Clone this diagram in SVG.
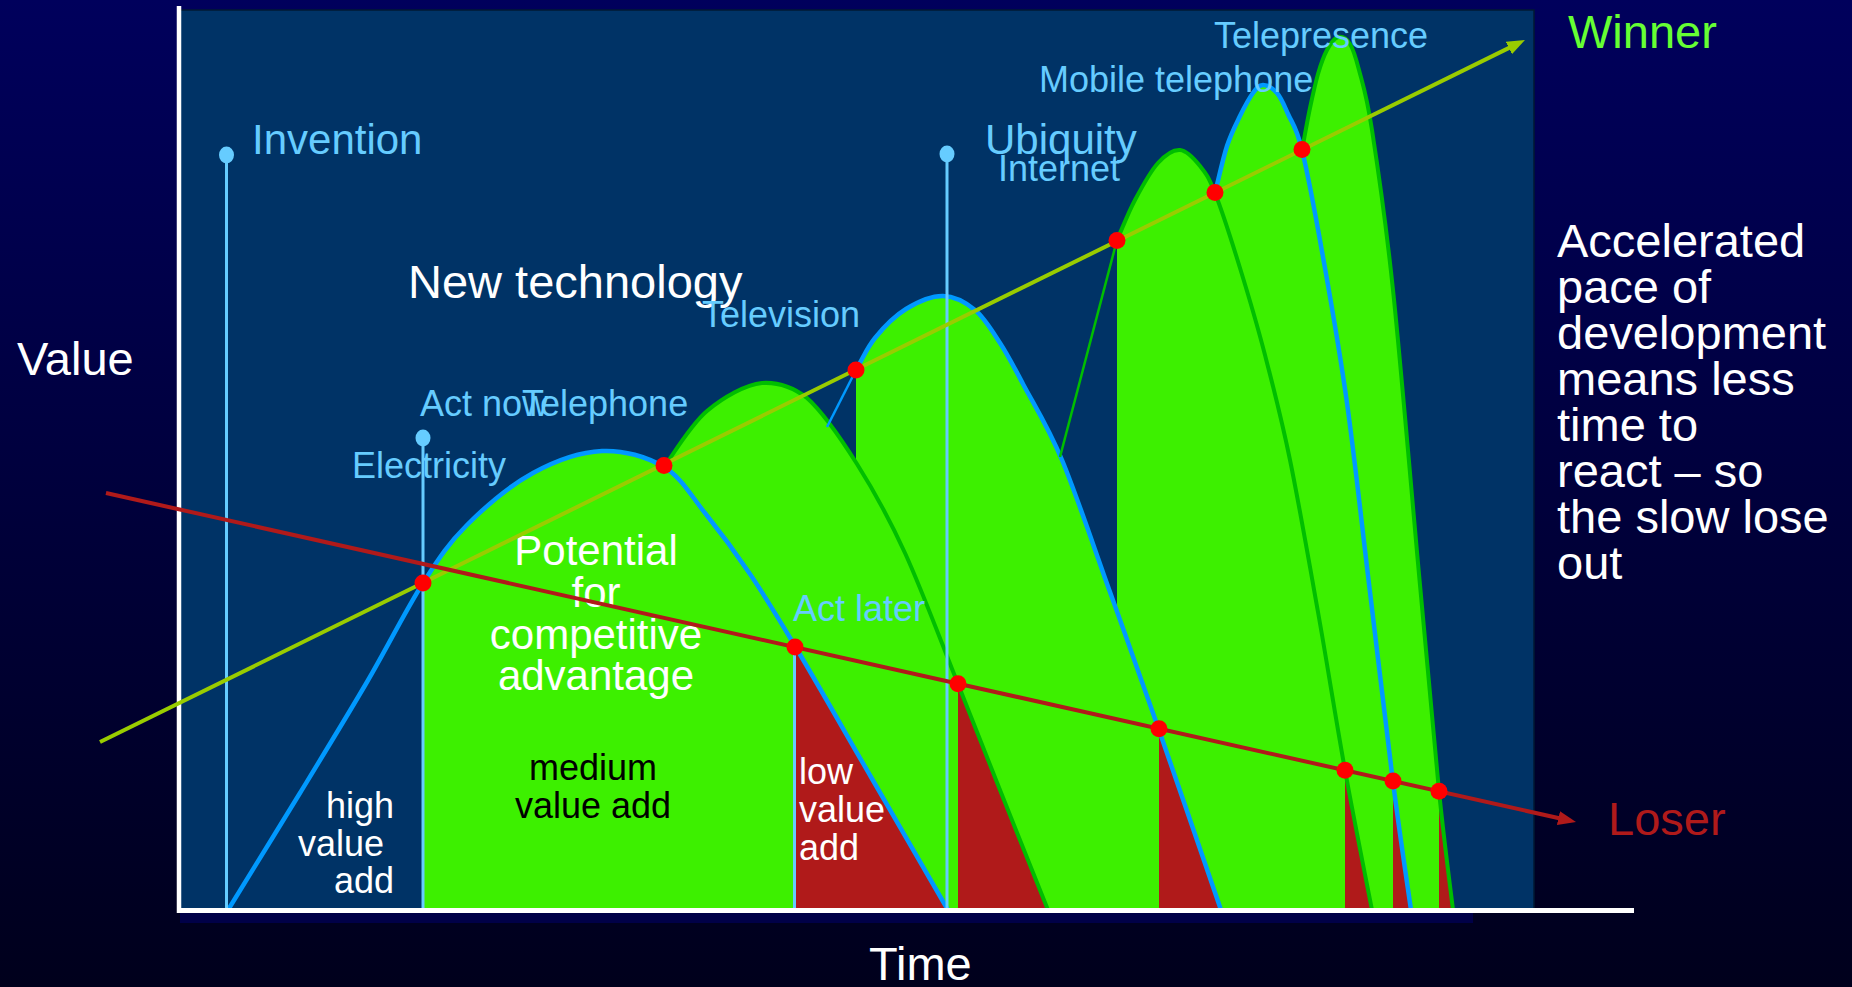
<svg xmlns="http://www.w3.org/2000/svg" width="1852" height="987" viewBox="0 0 1852 987">
<defs>
<linearGradient id="bg" x1="0" y1="0" x2="0" y2="1">
<stop offset="0" stop-color="#00005C"/>
<stop offset="1" stop-color="#00001C"/>
</linearGradient>
<marker id="arrW" viewBox="0 0 18 14" refX="2" refY="7" markerWidth="18" markerHeight="14" markerUnits="userSpaceOnUse" orient="auto">
<path d="M0,0 L18,7 L0,14 Z" fill="#99CC00"/>
</marker>
<marker id="arrL" viewBox="0 0 18 14" refX="2" refY="7" markerWidth="18" markerHeight="14" markerUnits="userSpaceOnUse" orient="auto">
<path d="M0,0 L18,7 L0,14 Z" fill="#B01A1A"/>
</marker>
<style>
text { font-family: "Liberation Sans", Arial, sans-serif; }
.fill { fill: #3DF000; stroke: none; }
.red { fill: #B01A1A; stroke: none; }
.ob { fill: none; stroke: #0099FF; stroke-width: 4.5; }
.og { fill: none; stroke: #00BE00; stroke-width: 4; }
.thinb { fill: none; stroke: #0099FF; stroke-width: 2.5; }
.thing { fill: none; stroke: #00BE00; stroke-width: 2.5; }
.vl { stroke: #66CCFF; stroke-width: 3; fill: none; }
.vd { fill: #66CCFF; }
.dot { fill: #FF0000; }
.lb { fill: #66CCFF; font-size: 36px; }
.lbb { fill: #66CCFF; font-size: 42px; }
.wt { fill: #FFFFFF; font-size: 47px; }
.pt { fill: #FFFFFF; font-size: 42px; }
.in { fill: #FFFFFF; font-size: 36px; }
.blk { fill: #000000; font-size: 36px; }
</style>
</defs>

<g id="background">
<rect x="0" y="0" width="1852" height="987" fill="url(#bg)"/>
<rect x="180" y="912" width="1293" height="11" fill="#000048"/>
<rect x="180" y="10" width="1354" height="900" fill="#003366" stroke="#001a33" stroke-width="1.5"/>
</g>

<g id="fills">
<path class="fill" d="M423,910 L423,583 C439.7,556.8 448.7,543.3 467,525 C485.3,506.7 510.5,485.3 533,473 C555.5,460.7 580.2,452 602,451 C623.8,450 646.8,456.7 664,467 C681.2,477.3 690.7,495.2 705,513 C719.3,530.8 735,551.8 750,574 C765,596.2 774.8,612.2 795,646 C815.2,679.8 845.5,733 871,777 C896.5,821 935.2,887.8 948,910 Z"/>
<path class="fill" d="M664,910 L664,467 C671.2,457.7 690.2,425 707,411 C723.8,397 746,384.5 762,383 C778,382 791.7,386 807,398 C822.3,411.5 840.7,438.2 857,464 C873.3,489.8 888.2,516.3 905,553 C921.8,589.7 941.5,642.8 958,684 C974.5,725.2 989,762.3 1004,800 C1019,837.7 1040.7,891.7 1048,910 Z"/>
<path class="fill" d="M856,910 L856,370 C864,356.2 866.7,348.3 875,338 C883.3,327.7 894.7,316 906,309 C917.3,302 931.5,295.8 943,296 C954.5,296.2 965.5,302.2 975,310 C984.5,317.8 992,330.7 1000,343 C1008,355.3 1012.7,364.5 1023,384 C1033.3,403.5 1047.5,425.3 1062,460 C1076.5,494.7 1093.8,547 1110,592 C1126.2,637 1140.5,677 1159,730 C1177.5,783 1210.7,880 1221,910 Z"/>
<path class="fill" d="M1117,910 L1117,240 C1123,226.7 1128.2,212.8 1135,200 C1141.8,187.2 1150.5,171.3 1158,163 C1165.5,154.7 1173,149.5 1180,150 C1187,150.5 1194.2,158.8 1200,166 C1205.8,173.2 1208.3,176 1215,193 C1221.7,210 1231.7,241 1240,268 C1248.3,295 1256.7,323 1265,355 C1273.3,387 1281.2,417.2 1290,460 C1298.8,502.8 1308.8,560.3 1318,612 C1327.2,663.7 1336,720.3 1345,770 C1354,819.7 1367.5,886.7 1372,910 Z"/>
<path class="fill" d="M1215,910 L1215,193 C1219,177.3 1222.8,158.8 1227,146 C1231.2,133.2 1235.7,124.8 1240,116 C1244.3,107.2 1249.2,98.2 1253,93 C1256.8,87.8 1259,85 1263,85 C1267,85 1272.8,88.2 1277,93 C1281.2,97.8 1283.8,104.5 1288,114 C1292.2,123.5 1296.2,126.2 1302,150 C1307.8,173.8 1315.5,214.8 1323,257 C1330.5,299.2 1339.2,347.2 1347,403 C1354.8,458.8 1362.3,528.8 1370,592 C1377.7,655.2 1386.2,729 1393,782 C1399.8,835 1408,888.7 1411,910 Z"/>
<path class="fill" d="M1302,910 L1302,150 C1304.7,136 1307.3,120.7 1310,108 C1312.7,95.3 1315.2,83.7 1318,74 C1320.8,64.3 1323.7,56.2 1327,50 C1330.3,43.8 1334.2,38 1338,37 C1341.8,36 1346.5,38.5 1350,44 C1353.5,49.5 1355.3,55.7 1359,70 C1362.7,84.3 1366.3,93.3 1372,130 C1377.7,166.7 1385,214.2 1393,290 C1401,365.8 1412.3,501.5 1420,585 C1427.7,668.5 1433.5,736.8 1439,791 C1444.5,845.2 1450.7,890.2 1453,910 Z"/>
</g>

<g id="losses">
<path class="red" d="M795,910 L795,646 C815.2,679.8 845.5,733 871,777 C896.5,821 935.2,887.8 948,910 Z"/>
<path class="red" d="M958,910 L958,684 C974.5,725.2 989,762.3 1004,800 C1019,837.7 1040.7,891.7 1048,910 Z"/>
<path class="red" d="M1159,910 L1159,730 C1177.5,783 1210.7,880 1221,910 Z"/>
<path class="red" d="M1345,910 L1345,770 C1354,819.7 1367.5,886.7 1372,910 Z"/>
<path class="red" d="M1393,910 L1393,782 C1399.8,835 1408,888.7 1411,910 Z"/>
<path class="red" d="M1439,910 L1439,791 C1444.5,845.2 1450.7,890.2 1453,910 Z"/>
</g>

<g id="outlines">
<path id="electricity-curve" class="ob" d="M228,910 C240,890.5 276.8,831 300,793 C323.2,755 346.5,717 367,682 C387.5,647 406.3,609.2 423,583 C439.7,556.8 448.7,543.3 467,525 C485.3,506.7 510.5,485.3 533,473 C555.5,460.7 580.2,452 602,451 C623.8,450 646.8,456.7 664,467 C681.2,477.3 690.7,495.2 705,513 C719.3,530.8 735,551.8 750,574 C765,596.2 774.8,612.2 795,646 C815.2,679.8 845.5,733 871,777 C896.5,821 935.2,887.8 948,910"/>
<path id="telephone-curve" class="og" d="M664,467 C671.2,457.7 690.2,425 707,411 C723.8,397 746,384.5 762,383 C778,382 791.7,386 807,398 C822.3,411.5 840.7,438.2 857,464 C873.3,489.8 888.2,516.3 905,553 C921.8,589.7 941.5,642.8 958,684 C974.5,725.2 989,762.3 1004,800 C1019,837.7 1040.7,891.7 1048,910"/>
<path class="thinb" d="M827,427 L856,370"/>
<path id="television-curve" class="ob" d="M856,370 C864,356.2 866.7,348.3 875,338 C883.3,327.7 894.7,316 906,309 C917.3,302 931.5,295.8 943,296 C954.5,296.2 965.5,302.2 975,310 C984.5,317.8 992,330.7 1000,343 C1008,355.3 1012.7,364.5 1023,384 C1033.3,403.5 1047.5,425.3 1062,460 C1076.5,494.7 1093.8,547 1110,592 C1126.2,637 1140.5,677 1159,730 C1177.5,783 1210.7,880 1221,910"/>
<path class="thing" d="M1060,457 L1117,240"/>
<path id="internet-curve" class="og" d="M1117,240 C1123,226.7 1128.2,212.8 1135,200 C1141.8,187.2 1150.5,171.3 1158,163 C1165.5,154.7 1173,149.5 1180,150 C1187,150.5 1194.2,158.8 1200,166 C1205.8,173.2 1208.3,176 1215,193 C1221.7,210 1231.7,241 1240,268 C1248.3,295 1256.7,323 1265,355 C1273.3,387 1281.2,417.2 1290,460 C1298.8,502.8 1308.8,560.3 1318,612 C1327.2,663.7 1336,720.3 1345,770 C1354,819.7 1367.5,886.7 1372,910"/>
<path id="mobile-curve" class="ob" d="M1215,193 C1219,177.3 1222.8,158.8 1227,146 C1231.2,133.2 1235.7,124.8 1240,116 C1244.3,107.2 1249.2,98.2 1253,93 C1256.8,87.8 1259,85 1263,85 C1267,85 1272.8,88.2 1277,93 C1281.2,97.8 1283.8,104.5 1288,114 C1292.2,123.5 1296.2,126.2 1302,150 C1307.8,173.8 1315.5,214.8 1323,257 C1330.5,299.2 1339.2,347.2 1347,403 C1354.8,458.8 1362.3,528.8 1370,592 C1377.7,655.2 1386.2,729 1393,782 C1399.8,835 1408,888.7 1411,910"/>
<path id="telepresence-curve" class="og" d="M1302,150 C1304.7,136 1307.3,120.7 1310,108 C1312.7,95.3 1315.2,83.7 1318,74 C1320.8,64.3 1323.7,56.2 1327,50 C1330.3,43.8 1334.2,38 1338,37 C1341.8,36 1346.5,38.5 1350,44 C1353.5,49.5 1355.3,55.7 1359,70 C1362.7,84.3 1366.3,93.3 1372,130 C1377.7,166.7 1385,214.2 1393,290 C1401,365.8 1412.3,501.5 1420,585 C1427.7,668.5 1433.5,736.8 1439,791 C1444.5,845.2 1450.7,890.2 1453,910"/>
</g>

<g id="markers">
<line class="vl" x1="226.5" y1="155" x2="226.5" y2="910"/>
<ellipse class="vd" cx="226.5" cy="155" rx="7.5" ry="8.5"/>
<line class="vl" x1="423" y1="438" x2="423" y2="910"/>
<ellipse class="vd" cx="423" cy="438" rx="7.5" ry="8.5"/>
<line class="vl" x1="947" y1="154" x2="947" y2="910"/>
<ellipse class="vd" cx="947" cy="154" rx="7.5" ry="8.5"/>
<line class="vl" x1="794.5" y1="647" x2="794.5" y2="910"/>
</g>

<g id="axes">
<line x1="179" y1="6" x2="179" y2="913" stroke="#FFFFFF" stroke-width="4.5"/>
<line x1="177" y1="910.5" x2="1634" y2="910.5" stroke="#FFFFFF" stroke-width="5"/>
</g>

<g id="area-labels">
<text class="pt" x="596" y="565" text-anchor="middle">Potential</text>
<text class="pt" x="596" y="607" text-anchor="middle">for</text>
<text class="pt" x="596" y="649" text-anchor="middle">competitive</text>
<text class="pt" x="596" y="690" text-anchor="middle">advantage</text>
<text class="blk" x="593" y="780" text-anchor="middle">medium</text>
<text class="blk" x="593" y="818" text-anchor="middle">value add</text>
<text class="in" x="394" y="818" text-anchor="end">high</text>
<text class="in" x="384" y="856" text-anchor="end">value</text>
<text class="in" x="394" y="893" text-anchor="end">add</text>
<text class="in" x="799" y="784">low</text>
<text class="in" x="799" y="822">value</text>
<text class="in" x="799" y="860">add</text>
</g>

<g id="connectors">
<line id="winner-line" x1="100" y1="742" x2="1510.6" y2="47.1" stroke="#99CC00" stroke-width="4" marker-end="url(#arrW)"/>
<line id="loser-line" x1="106" y1="493" x2="1560.4" y2="818.5" stroke="#B01A1A" stroke-width="4" marker-end="url(#arrL)"/>
</g>

<g id="dots">
<circle class="dot" cx="423" cy="583" r="8.5"/>
<circle class="dot" cx="664" cy="465.5" r="8.5"/>
<circle class="dot" cx="856" cy="370" r="8.5"/>
<circle class="dot" cx="1117" cy="240.6" r="8.5"/>
<circle class="dot" cx="1215" cy="192.4" r="8.5"/>
<circle class="dot" cx="1302" cy="149.5" r="8.5"/>
<circle class="dot" cx="795" cy="647" r="8.5"/>
<circle class="dot" cx="958" cy="683.7" r="8.5"/>
<circle class="dot" cx="1159" cy="728.7" r="8.5"/>
<circle class="dot" cx="1345" cy="770.3" r="8.5"/>
<circle class="dot" cx="1393" cy="781" r="8.5"/>
<circle class="dot" cx="1439" cy="791.3" r="8.5"/>
</g>

<g id="labels">
<text class="wt" x="17" y="375">Value</text>
<text class="wt" x="869" y="980">Time</text>
<text class="wt" x="408" y="298">New technology</text>
<text class="lbb" x="252" y="154">Invention</text>
<text class="lbb" x="985" y="154">Ubiquity</text>
<text class="lb" x="998" y="181">Internet</text>
<text class="lb" x="420" y="416">Act now</text>
<text class="lb" x="522" y="416">Telephone</text>
<text class="lb" x="352" y="478">Electricity</text>
<text class="lb" x="702" y="327">Television</text>
<text class="lb" x="1039" y="92">Mobile telephone</text>
<text class="lb" x="1214" y="48">Telepresence</text>
<text class="lb" x="793" y="621">Act later</text>
<text x="1568" y="48" font-size="47" fill="#66FF33">Winner</text>
<text x="1608" y="835" font-size="47" fill="#B01A1A">Loser</text>
<g id="note" class="wt">
<text x="1557" y="257">Accelerated</text>
<text x="1557" y="303">pace of</text>
<text x="1557" y="349">development</text>
<text x="1557" y="395">means less</text>
<text x="1557" y="441">time to</text>
<text x="1557" y="487">react – so</text>
<text x="1557" y="533">the slow lose</text>
<text x="1557" y="579">out</text>
</g>
</g>
</svg>
